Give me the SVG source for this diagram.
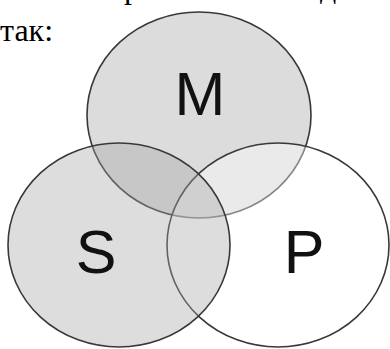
<svg xmlns="http://www.w3.org/2000/svg" width="390" height="349" viewBox="0 0 390 349">
<style>
.c{stroke:#383838;stroke-width:1.6}
.lbl{font-family:"Liberation Sans",Arial,sans-serif;font-size:61px;fill:#111;text-anchor:middle}
.txt{font-family:"Liberation Serif","Times New Roman",serif;font-size:32px;fill:#000}
</style>
<rect width="390" height="349" fill="#fff"/>
<text class="txt" x="124" y="-2">р</text>
<text class="txt" x="320" y="-2">д</text>
<text class="txt" x="0" y="41">так:</text>
<g id="M">
<ellipse class="c" cx="199" cy="115" rx="112" ry="103" fill="#dcdcdc"/>
</g>
<g id="P">
<ellipse class="c" cx="278" cy="245" rx="111" ry="102" fill="#fff" fill-opacity="0.4"/>
</g>
<g id="S">
<ellipse class="c" cx="119" cy="245" rx="111" ry="102" fill="#a6a6a6" fill-opacity="0.38"/>
</g>
<g id="labels">
<text class="lbl" x="200" y="115">M</text>
<text class="lbl" x="96" y="273">S</text>
<text class="lbl" x="304" y="273">P</text>
</g>
</svg>
